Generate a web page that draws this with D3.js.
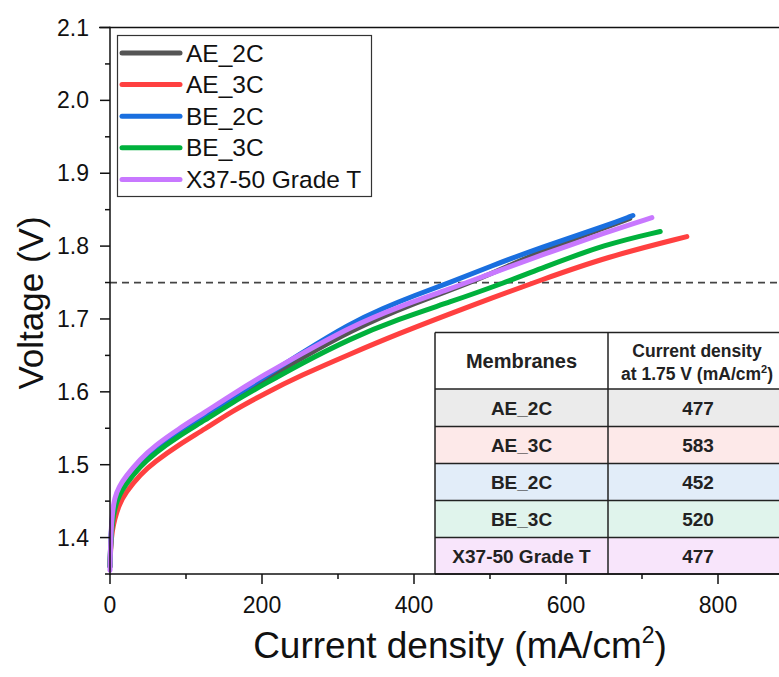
<!DOCTYPE html>
<html><head><meta charset="utf-8">
<script src="https://cdn.jsdelivr.net/npm/d3@7"></script>
<style>body{margin:0;background:#fff;}svg{display:block;font-family:"Liberation Sans",Arial,sans-serif;}</style>
</head><body><svg id="c" width="779" height="677"></svg>
<script>
const seriesNames = ["AE_2C","AE_3C","BE_2C","BE_3C","X37-50 Grade T"];
const seriesColors = ["#555555","#ff4040","#1a6fdf","#00b13c","#c878ff"];
const AE_2C = [[0,1.36],[1,1.398],[3,1.425],[6,1.445],[12,1.462],[20,1.476],[40,1.502],[59,1.519],[90,1.542],[125,1.565],[160,1.589],[204,1.617],[250,1.645],[316,1.684],[400,1.722],[477,1.750],[566,1.793],[653,1.826],[684,1.838]];
const AE_3C = [[0,1.36],[1,1.39],[3,1.41],[6,1.425],[12,1.445],[20,1.461],[40,1.487],[59,1.504],[90,1.527],[125,1.549],[160,1.573],[204,1.598],[250,1.622],[316,1.652],[380,1.680],[447,1.707],[500,1.728],[566,1.753],[653,1.785],[759,1.813]];
const BE_2C = [[0,1.36],[1,1.40],[3,1.428],[6,1.45],[12,1.467],[20,1.48],[40,1.505],[59,1.522],[90,1.545],[125,1.568],[160,1.592],[204,1.621],[250,1.652],[316,1.694],[360,1.715],[400,1.732],[447,1.750],[500,1.772],[566,1.798],[653,1.828],[688,1.842]];
const BE_3C = [[0,1.36],[1,1.395],[3,1.42],[6,1.44],[12,1.458],[20,1.472],[40,1.498],[59,1.516],[90,1.539],[125,1.561],[160,1.585],[204,1.611],[250,1.638],[316,1.673],[380,1.700],[447,1.723],[520,1.750],[566,1.769],[653,1.803],[724,1.820]];
const X37 = [[0,1.355],[1,1.403],[3,1.433],[6,1.455],[12,1.47],[20,1.483],[40,1.508],[59,1.526],[90,1.549],[125,1.572],[160,1.596],[204,1.624],[250,1.651],[316,1.689],[380,1.717],[447,1.741],[500,1.762],[566,1.787],[653,1.819],[713,1.839]];
const seriesData = [AE_2C, AE_3C, BE_2C, BE_3C, X37];
const xTicks = [0,200,400,600,800];
const xMinor = [100,300,500,700];
const yTicks = [1.4,1.5,1.6,1.7,1.8,1.9,2.0,2.1];
const yMinor = [1.35,1.45,1.55,1.65,1.75,1.85,1.95,2.05];
const refVoltage = 1.75;
const tableHeader = ["Membranes", "Current density", "at 1.75 V (mA/cm²)"];
const tableNames = ["AE_2C","AE_3C","BE_2C","BE_3C","X37-50 Grade T"];
const tableValues = ["477","583","452","520","477"];
const tableFills = ["#ebebeb","#fde9e9","#e2edf9","#e0f4ec","#f8e5fb"];

const svg = d3.select("#c");
const x = d3.scaleLinear().domain([0,900]).range([110,794]);
const y = d3.scaleLinear().domain([1.35,2.1]).range([574,27.5]);

// dashed reference line
svg.append("line").attr("x1",x(0)).attr("x2",790).attr("y1",y(refVoltage)).attr("y2",y(refVoltage))
  .attr("stroke","#444").attr("stroke-width",1.8).attr("stroke-dasharray","7,5");

// curves
const line = d3.line().x(d=>x(d[0])).y(d=>y(d[1])).curve(d3.curveBasis);
seriesData.forEach((s,i)=>{
  svg.append("path").attr("d",line(s)).attr("fill","none").attr("stroke",seriesColors[i])
    .attr("stroke-width",5).attr("stroke-linecap","round").attr("stroke-linejoin","round");
});

// table
const tx0 = 435, tx1 = 608, tx2 = 787;
const ty = [332.5, 389, 426.5, 463.5, 500.5, 537.5, 574];
const tg = svg.append("g");
tableNames.forEach((n,i)=>{
  tg.append("rect").attr("x",tx0).attr("y",ty[i+1]).attr("width",tx2-tx0).attr("height",ty[i+2]-ty[i+1]).attr("fill",tableFills[i]);
});
tg.append("rect").attr("x",tx0).attr("y",ty[0]).attr("width",tx2-tx0).attr("height",ty[1]-ty[0]).attr("fill","#fff");
ty.forEach(v=>tg.append("line").attr("x1",tx0).attr("x2",tx2).attr("y1",v).attr("y2",v).attr("stroke","#222").attr("stroke-width",1.5));
[tx0,tx1,tx2].forEach(v=>tg.append("line").attr("x1",v).attr("x2",v).attr("y1",ty[0]).attr("y2",ty[6]).attr("stroke","#222").attr("stroke-width",1.5));
tg.append("text").attr("x",(tx0+tx1)/2).attr("y",368).attr("text-anchor","middle").attr("font-weight","bold").attr("font-size",20).attr("fill","#222").text(tableHeader[0]);
tg.append("text").attr("x",697).attr("y",357).attr("text-anchor","middle").attr("font-weight","bold").attr("font-size",17.5).attr("fill","#222").text(tableHeader[1]);
const h2 = tg.append("text").attr("x",697).attr("y",380).attr("text-anchor","middle").attr("font-weight","bold").attr("font-size",17.5).attr("fill","#222");
h2.append("tspan").text("at 1.75 V (mA/cm");
h2.append("tspan").attr("font-size",11).attr("dy",-7).text("2");
h2.append("tspan").attr("dy",7).text(")");
tableNames.forEach((n,i)=>{
  const cy = (ty[i+1]+ty[i+2])/2 + 7;
  tg.append("text").attr("x",(tx0+tx1)/2).attr("y",cy).attr("text-anchor","middle").attr("font-weight","bold").attr("font-size",19).attr("fill","#222").text(n);
  tg.append("text").attr("x",698).attr("y",cy).attr("text-anchor","middle").attr("font-weight","bold").attr("font-size",19).attr("fill","#222").text(tableValues[i]);
});

// axes
const ax = svg.append("g").attr("stroke","#111").attr("stroke-width",1.5);
ax.append("line").attr("x1",x(0)).attr("x2",790).attr("y1",y(1.35)).attr("y2",y(1.35));
ax.append("line").attr("x1",99).attr("x2",790).attr("y1",y(2.1)).attr("y2",y(2.1));
ax.append("line").attr("x1",x(0)).attr("x2",x(0)).attr("y1",y(1.35)+0.7).attr("y2",y(2.1)-0.7);
xTicks.forEach(v=>ax.append("line").attr("x1",x(v)).attr("x2",x(v)).attr("y1",y(1.35)).attr("y2",y(1.35)+10));
xMinor.forEach(v=>ax.append("line").attr("x1",x(v)).attr("x2",x(v)).attr("y1",y(1.35)).attr("y2",y(1.35)+5));
yTicks.forEach(v=>ax.append("line").attr("x1",x(0)-10).attr("x2",x(0)).attr("y1",y(v)).attr("y2",y(v)));
yMinor.forEach(v=>ax.append("line").attr("x1",x(0)-5).attr("x2",x(0)).attr("y1",y(v)).attr("y2",y(v)));

const lab = svg.append("g").attr("fill","#111").attr("font-size",23);
xTicks.forEach(v=>lab.append("text").attr("x",x(v)).attr("y",613).attr("text-anchor","middle").text(d3.format("d")(v)));
yTicks.forEach(v=>lab.append("text").attr("x",89).attr("y",y(v)+8).attr("text-anchor","end").text(d3.format(".1f")(v)));

const xl = svg.append("text").attr("x",460).attr("y",658).attr("text-anchor","middle").attr("font-size",37).attr("fill","#111");
xl.append("tspan").text("Current density (mA/cm");
xl.append("tspan").attr("font-size",23).attr("dy",-15).text("2");
xl.append("tspan").attr("dy",15).text(")");
svg.append("text").attr("transform","translate(43,303) rotate(-90)").attr("text-anchor","middle").attr("font-size",35).attr("fill","#111").text("Voltage (V)");

// legend
const lg = svg.append("g");
lg.append("rect").attr("x",117.5).attr("y",35.5).attr("width",254).attr("height",161).attr("fill","#fff").attr("stroke","#333").attr("stroke-width",1.2);
seriesNames.forEach((n,i)=>{
  const ry = 53 + i*31.6;
  lg.append("line").attr("x1",122).attr("x2",180).attr("y1",ry).attr("y2",ry).attr("stroke",seriesColors[i]).attr("stroke-width",5).attr("stroke-linecap","round");
  lg.append("text").attr("x",186).attr("y",ry+8.5).attr("font-size",24.5).attr("fill","#111").text(n);
});
</script></body></html>
